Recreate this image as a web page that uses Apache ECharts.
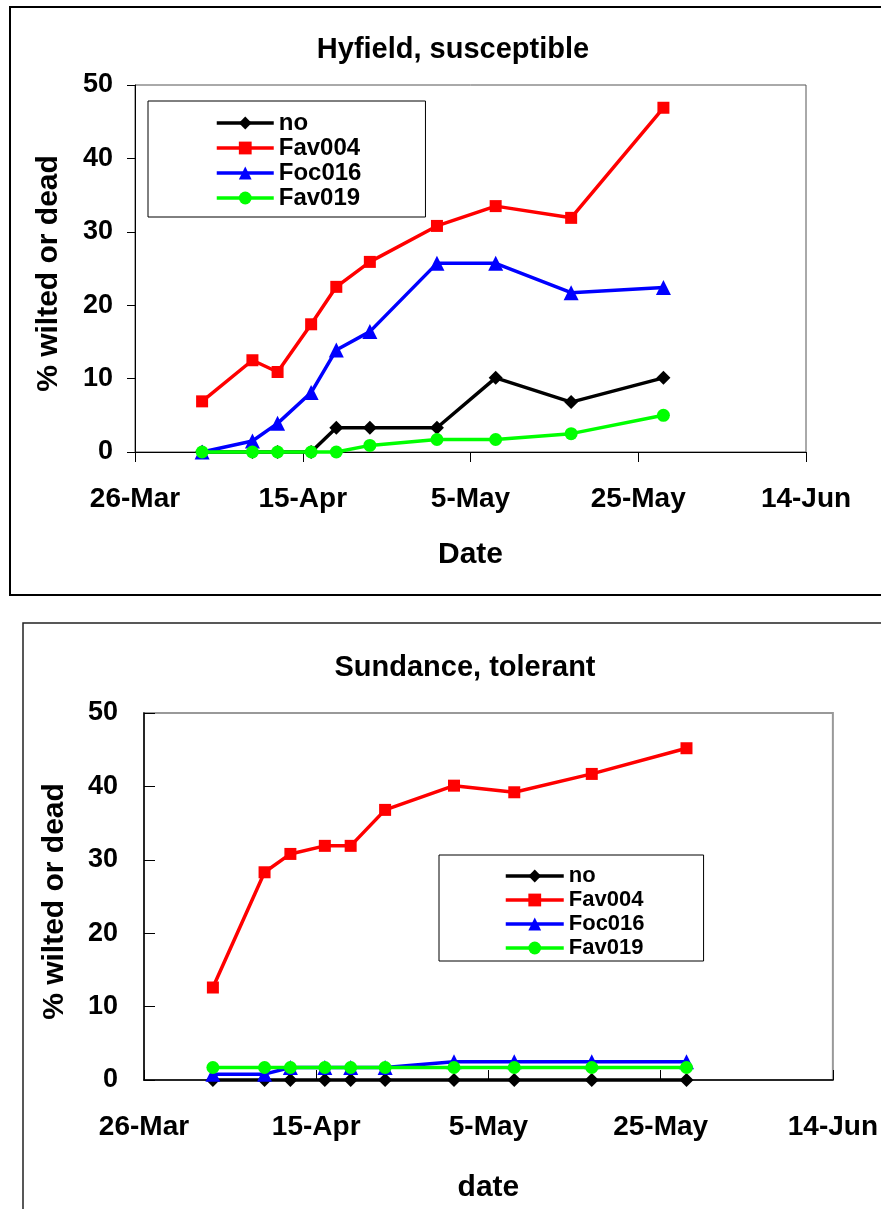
<!DOCTYPE html>
<html>
<head>
<meta charset="utf-8">
<script src="https://cdn.jsdelivr.net/npm/echarts@6/dist/echarts.min.js"></script>
<style>
html,body{margin:0;padding:0;background:#fff;}
#chart{width:881px;height:1209px;}
</style>
</head>
<body>
<div id="chart"></div>
<script>
// ---- data ----
const startDate = '03-26';
const sampleDates = ['04-03','04-09','04-12','04-16','04-19','04-23','05-01','05-08','05-17','05-28'];
const xTickLabels = ['26-Mar','15-Apr','5-May','25-May','14-Jun'];
const seriesNames = ['no','Fav004','Foc016','Fav019'];

const hyfieldNo     = [0, 0, 0, 0, 3.3, 3.3, 3.3, 10.1, 6.8, 10.1];
const hyfieldFav004 = [6.9, 12.5, 10.9, 17.4, 22.5, 25.9, 30.8, 33.5, 31.9, 46.9];
const hyfieldFoc016 = [0, 1.5, 3.9, 8.1, 13.9, 16.4, 25.7, 25.7, 21.7, 22.4];
const hyfieldFav019 = [0, 0, 0, 0, 0, 0.9, 1.7, 1.7, 2.5, 5.0];

const sundanceNo     = [0, 0, 0, 0, 0, 0, 0, 0, 0, 0];
const sundanceFav004 = [12.6, 28.3, 30.8, 31.9, 31.9, 36.8, 40.1, 39.2, 41.7, 45.2];
const sundanceFoc016 = [0.8, 0.8, 1.7, 1.7, 1.7, 1.7, 2.5, 2.5, 2.5, 2.5];
const sundanceFav019 = [1.7, 1.7, 1.7, 1.7, 1.7, 1.7, 1.7, 1.7, 1.7, 1.7];

// ---- helpers ----
function dayOffset(md) {
  const [m, d] = md.split('-').map(Number);
  const [m0, d0] = startDate.split('-').map(Number);
  return Math.round((Date.UTC(2001, m - 1, d) - Date.UTC(2001, m0 - 1, d0)) / 864e5);
}
const xDays = sampleDates.map(dayOffset);
const pairs = vals => vals.map((v, i) => [xDays[i], v]);

const FONT = "'Liberation Sans', Arial, sans-serif";
const colors = ['#000000', '#ff0000', '#0000ff', '#00ff00'];
const symbols = ['diamond', 'rect', 'triangle', 'circle'];
const symSizes = [14, 12, 15, 13];

function makeSeries(valsList, gridIdx) {
  return valsList.map((vals, k) => ({
    name: seriesNames[k],
    type: 'line',
    xAxisIndex: gridIdx,
    yAxisIndex: gridIdx,
    data: pairs(vals),
    symbol: symbols[k],
    symbolSize: symSizes[k],
    showAllSymbol: true,
    clip: false,
    lineStyle: { color: colors[k], width: 3.5 },
    itemStyle: { color: colors[k] },
    emphasis: { disabled: true },
    z: 3 + k
  }));
}

const xLabelFmt = v => xTickLabels[Math.round(v / 20)] || '';

const chart = echarts.init(document.getElementById('chart'));
const option = {
  backgroundColor: '#ffffff',
  animation: false,
  textStyle: { fontFamily: FONT },
  graphic: [
    { type: 'rect', shape: { x: 10, y: 7, width: 900, height: 588 },
      style: { fill: 'none', stroke: '#000', lineWidth: 2 }, z: -10 },
    { type: 'rect', shape: { x: 23, y: 623, width: 900, height: 700 },
      style: { fill: 'none', stroke: '#222', lineWidth: 1.5 }, z: -10 }
  ],
  title: [
    { text: 'Hyfield, susceptible', left: 448, top: 30, textAlign: 'center',
      textStyle: { fontFamily: FONT, fontSize: 29, fontWeight: 'bold', color: '#000' } },
    { text: 'Sundance, tolerant', left: 460, top: 648, textAlign: 'center',
      textStyle: { fontFamily: FONT, fontSize: 29, fontWeight: 'bold', color: '#000' } }
  ],
  legend: [
    { data: seriesNames, orient: 'vertical', left: 148, top: 101,
      padding: [10, 64, 7, 67], itemGap: 1, itemWidth: 57, itemHeight: 16,
      borderColor: '#000', borderWidth: 1, backgroundColor: '#fff',
      selectedMode: false, lineStyle: { width: 3.5 },
      textStyle: { fontFamily: FONT, fontSize: 24, fontWeight: 'bold', color: '#000' } },
    { data: seriesNames, orient: 'vertical', left: 439, top: 855,
      padding: [10, 59, 2, 65], itemGap: 2, itemWidth: 58, itemHeight: 16,
      borderColor: '#000', borderWidth: 1, backgroundColor: '#fff',
      selectedMode: false, lineStyle: { width: 3.5 },
      textStyle: { fontFamily: FONT, fontSize: 22, fontWeight: 'bold', color: '#000' } }
  ],
  grid: [
    { left: 135, right: 75, top: 85, bottom: 757, show: true,
      borderColor: '#555', borderWidth: 1, backgroundColor: '#fff' },
    { left: 144, right: 46, top: 713, bottom: 129, show: true,
      borderColor: '#999', borderWidth: 2, backgroundColor: '#fff' }
  ],
  xAxis: [
    { type: 'value', gridIndex: 0, min: 0, max: 80, interval: 20,
      name: 'Date', nameLocation: 'middle', nameGap: 88,
      nameTextStyle: { fontFamily: FONT, fontSize: 30, fontWeight: 'bold', color: '#000', verticalAlign: 'top' },
      axisLine: { show: true, onZero: false, lineStyle: { color: '#000', width: 1 } },
      axisTick: { show: true, length: 10, lineStyle: { color: '#000' } },
      axisLabel: { margin: 33, formatter: xLabelFmt, fontFamily: FONT, fontSize: 28, fontWeight: 'bold', color: '#000', verticalAlign: 'top' },
      splitLine: { show: false } },
    { type: 'value', gridIndex: 1, min: 0, max: 80, interval: 20,
      name: 'date', nameLocation: 'middle', nameGap: 93,
      nameTextStyle: { fontFamily: FONT, fontSize: 30, fontWeight: 'bold', color: '#000', verticalAlign: 'top' },
      axisLine: { show: true, onZero: false, lineStyle: { color: '#000', width: 1.5 } },
      axisTick: { show: true, inside: true, length: 10, lineStyle: { color: '#000' } },
      axisLabel: { margin: 33, formatter: xLabelFmt, fontFamily: FONT, fontSize: 28, fontWeight: 'bold', color: '#000', verticalAlign: 'top' },
      splitLine: { show: false } },
    { type: 'value', gridIndex: 1, min: 0, max: 80, interval: 20,
      axisLine: { show: false },
      axisTick: { show: true, length: 10, lineStyle: { color: '#000' } },
      axisLabel: { show: false },
      splitLine: { show: false } }
  ],
  yAxis: [
    { type: 'value', gridIndex: 0, min: 0, max: 50, interval: 10,
      name: '% wilted or dead', nameLocation: 'middle', nameGap: 71, nameRotate: 90,
      nameTextStyle: { fontFamily: FONT, fontSize: 30, fontWeight: 'bold', color: '#000', padding: [0, 10, 0, 0] },
      axisLine: { show: true, lineStyle: { color: '#000', width: 1 } },
      axisTick: { show: true, length: 8, lineStyle: { color: '#000' } },
      axisLabel: { margin: 22, fontFamily: FONT, fontSize: 27, fontWeight: 'bold', color: '#000' },
      splitLine: { show: false } },
    { type: 'value', gridIndex: 1, min: 0, max: 50, interval: 10,
      name: '% wilted or dead', nameLocation: 'middle', nameGap: 74, nameRotate: 90,
      nameTextStyle: { fontFamily: FONT, fontSize: 30, fontWeight: 'bold', color: '#000', padding: [0, 10, 0, 0] },
      axisLine: { show: true, lineStyle: { color: '#000', width: 1.5 } },
      axisTick: { show: true, inside: true, length: 11, lineStyle: { color: '#000' } },
      axisLabel: { margin: 26, fontFamily: FONT, fontSize: 27, fontWeight: 'bold', color: '#000' },
      splitLine: { show: false } },
    { type: 'value', gridIndex: 1, min: 0, max: 50, interval: 10,
      axisLine: { show: false },
      axisTick: { show: true, length: 11, lineStyle: { color: '#000' } },
      axisLabel: { show: false },
      splitLine: { show: false } }
  ],
  series: [].concat(
    makeSeries([hyfieldNo, hyfieldFav004, hyfieldFoc016, hyfieldFav019], 0),
    makeSeries([sundanceNo, sundanceFav004, sundanceFoc016, sundanceFav019], 1)
  )
};
chart.setOption(option);
</script>
</body>
</html>
